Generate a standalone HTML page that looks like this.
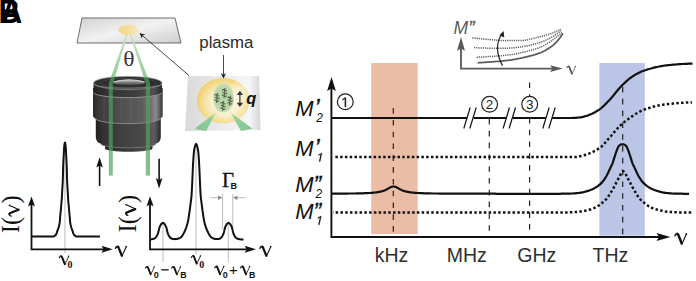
<!DOCTYPE html>
<html><head><meta charset="utf-8"><style>
html,body{margin:0;padding:0;background:#fff;}
body{width:696px;height:281px;overflow:hidden;}
svg{display:block;}
.sans{font-family:"Liberation Sans",sans-serif;}
.serif{font-family:"Liberation Serif",serif;}
</style></head><body>
<svg width="696" height="281" viewBox="0 0 696 281">
<defs>
<g id="nu" fill="none" stroke="currentColor" stroke-linecap="round">
<path d="M0.5,3.0 C0.8,1.7 1.8,1.0 2.8,1.3" stroke-width="1.4"/>
<path d="M2.7,1.3 C3.4,1.6 3.8,2.5 4.1,3.5 L6.8,10.4" stroke-width="2.3"/>
<path d="M6.9,10.8 C8.4,7.6 9.8,5.0 11.2,1.4" stroke-width="1.05"/>
<circle cx="11.2" cy="1.3" r="0.8" fill="currentColor" stroke="none"/>
</g>
<path id="one" d="M515,-1237 L197,-1010 L197,-1180 L530,-1409 L696,-1409 L696,0 L515,0 Z"/>
<linearGradient id="slide" x1="0" y1="0" x2="1" y2="1">
<stop offset="0" stop-color="#d2d2d2"/><stop offset="0.5" stop-color="#f2f2f2"/><stop offset="1" stop-color="#cdcdcd"/>
</linearGradient>
<linearGradient id="spot" x1="0" y1="0" x2="1" y2="0">
<stop offset="0" stop-color="#f1d67e"/><stop offset="0.5" stop-color="#f3dd95"/><stop offset="1" stop-color="#f5e8c0"/>
</linearGradient>
<linearGradient id="beamup" gradientUnits="userSpaceOnUse" x1="0" y1="33" x2="0" y2="83">
<stop offset="0" stop-color="#c4e3c4"/><stop offset="1" stop-color="#93cb98"/>
</linearGradient>
<linearGradient id="lensbody" x1="0" y1="0" x2="1" y2="0">
<stop offset="0" stop-color="#2a2a2a"/><stop offset="0.1" stop-color="#3c3c3c"/><stop offset="0.32" stop-color="#4a4a4a"/>
<stop offset="0.5" stop-color="#555"/><stop offset="0.68" stop-color="#5a5a5a"/>
<stop offset="0.82" stop-color="#6c6c6c"/><stop offset="0.9" stop-color="#8a8a8a"/><stop offset="0.96" stop-color="#5a5a5a"/><stop offset="1" stop-color="#333"/>
</linearGradient>
<linearGradient id="lenslow" x1="0" y1="0" x2="1" y2="0">
<stop offset="0" stop-color="#222"/><stop offset="0.12" stop-color="#333"/><stop offset="0.45" stop-color="#424242"/>
<stop offset="0.75" stop-color="#4a4a4a"/><stop offset="0.9" stop-color="#5c5c5c"/><stop offset="1" stop-color="#2a2a2a"/>
</linearGradient>
<linearGradient id="lensring" x1="0" y1="0" x2="1" y2="0">
<stop offset="0" stop-color="#232323"/><stop offset="0.2" stop-color="#333"/><stop offset="0.6" stop-color="#3e3e3e"/>
<stop offset="0.88" stop-color="#505050"/><stop offset="1" stop-color="#2a2a2a"/>
</linearGradient>
<linearGradient id="glass" x1="0" y1="0" x2="0" y2="1">
<stop offset="0" stop-color="#c4c4c4"/><stop offset="0.4" stop-color="#8a8a8a"/><stop offset="1" stop-color="#3a3a3a"/>
</linearGradient>
<linearGradient id="inset" x1="0" y1="0" x2="1" y2="0">
<stop offset="0" stop-color="#d9d9d9"/><stop offset="0.5" stop-color="#ebebeb"/><stop offset="0.85" stop-color="#f6f6f6"/><stop offset="1" stop-color="#d6d6d6"/>
</linearGradient>
<radialGradient id="ycirc" cx="0.54" cy="0.52" r="0.56" fx="0.56" fy="0.6">
<stop offset="0" stop-color="#fbf7e8"/><stop offset="0.45" stop-color="#f9f0cf"/><stop offset="0.7" stop-color="#f6e4a6"/><stop offset="0.88" stop-color="#f2d680"/><stop offset="1" stop-color="#eecb62"/>
</radialGradient>
<radialGradient id="yhl" cx="0.5" cy="0.5" r="0.5">
<stop offset="0" stop-color="#fffdf4" stop-opacity="0.75"/><stop offset="1" stop-color="#fffdf4" stop-opacity="0"/>
</radialGradient>
<radialGradient id="gell" cx="0.5" cy="0.5" r="0.5">
<stop offset="0" stop-color="#b4d3a2"/><stop offset="0.75" stop-color="#b9d6a7"/><stop offset="1" stop-color="#cbe1b8"/>
</radialGradient>
<linearGradient id="tri1" gradientUnits="userSpaceOnUse" x1="200" y1="130" x2="216" y2="112">
<stop offset="0" stop-color="#86c593"/><stop offset="0.7" stop-color="#97cf9f"/><stop offset="1" stop-color="#b3dab0" stop-opacity="0.5"/></linearGradient>
<linearGradient id="tri2" gradientUnits="userSpaceOnUse" x1="247" y1="130" x2="230" y2="112">
<stop offset="0" stop-color="#86c593"/><stop offset="0.7" stop-color="#97cf9f"/><stop offset="1" stop-color="#b3dab0" stop-opacity="0.5"/></linearGradient>
<marker id="ah" viewBox="0 0 10 10" refX="9" refY="5" markerWidth="6" markerHeight="6" orient="auto-start-reverse">
<path d="M0,0 L10,5 L0,10 L3,5 z" fill="#222"/></marker>
</defs>

<!-- panel labels -->
<g class="sans" font-weight="bold" font-size="33" fill="#000">
<text transform="translate(-1.6,22.8) scale(0.9,1)">B</text>
<text transform="translate(0.8,22.8) scale(0.9,1)">A</text>
</g>

<!-- slide -->
<polygon points="82,18 175,18 181,43 77,43" fill="url(#slide)" stroke="#4a4a4a" stroke-width="0.8"/>


<!-- upper beams -->
<polygon points="127.4,31 128.6,31 113.3,83 108.8,83" fill="url(#beamup)"/>
<polygon points="128.7,31 129.9,31 150,83 145.6,83" fill="url(#beamup)"/>
<ellipse cx="128.6" cy="30" rx="10.2" ry="5.4" fill="url(#spot)" opacity="0.92"/>
<text transform="translate(123.2,65.5) scale(1.18,1)" class="serif" font-size="20" fill="#3a3a3a">θ</text>

<!-- lens -->
<g>
<path d="M105,140 L152.5,140 L152.5,148.6 A23.75,3.2 0 0 1 105,148.6 Z" fill="url(#lensring)"/>
<path d="M95.8,118 L160.8,118 L160.8,137 Q160.7,142.4 156,143.6 A27.6,4.2 0 0 1 100.6,143.6 Q95.9,142.4 95.8,137 Z" fill="url(#lenslow)"/>
<path d="M100.6,143.6 A27.6,4.2 0 0 0 156,143.6" fill="none" stroke="#767676" stroke-width="0.9"/>
<path d="M93,88 L162.7,88 L162.7,116 Q162.6,117.6 161,118 A33.2,6 0 0 1 94.7,118 Q93.1,117.6 93,116 Z" fill="url(#lensbody)"/>
<g stroke="#7a7a7a" stroke-width="0.6" opacity="0.45">
<line x1="104" y1="97" x2="104" y2="121"/><line x1="112" y1="98" x2="112" y2="123"/><line x1="121" y1="98" x2="121" y2="124"/>
<line x1="131" y1="98" x2="131" y2="124"/><line x1="139" y1="98" x2="139" y2="123"/>
</g>
<path d="M94.7,118 A33.2,6 0 0 0 161,118" fill="none" stroke="#8e8e8e" stroke-width="0.9"/>
<path d="M93.5,84 Q93.6,83 95,82 L160.5,82 Q161.9,83 162,84 L162,92.4 A34.25,5.2 0 0 1 93.5,92.4 Z" fill="url(#lensring)"/>
<path d="M93.5,92.4 A34.25,5.2 0 0 0 162,92.4" fill="none" stroke="#9a9a9a" stroke-width="0.9"/>
<ellipse cx="127.8" cy="83" rx="34.2" ry="6.6" fill="#2d2d2d" stroke="#959595" stroke-width="0.7"/>
<ellipse cx="128.6" cy="83" rx="28" ry="4.6" fill="none" stroke="#444" stroke-width="0.8"/>
<ellipse cx="129" cy="82.6" rx="16" ry="2.8" fill="url(#glass)"/>
<path d="M113.5,82 Q129,77.6 144.5,82" fill="none" stroke="#cfcfcf" stroke-width="1"/>
<path d="M94,84 A33.8,4.2 0 0 0 161.6,84" fill="none" stroke="#8a8a8a" stroke-width="0.8"/>
</g>
<polygon points="110.95,77.2 115.07,77.2 113.3,83 112.8,83.5 112.8,89 108.8,89 108.8,83" fill="#4fa35f" opacity="0.7"/>
<polygon points="143.65,77.2 147.68,77.2 150,83 150,89 145.8,89 145.8,83.5 145.6,83" fill="#4fa35f" opacity="0.7"/>
<!-- lower beams -->
<rect x="108.8" y="89" width="4" height="86.6" fill="#4fa35f" opacity="0.7"/>
<rect x="145.8" y="89" width="4.2" height="86.6" fill="#4fa35f" opacity="0.7"/>

<!-- arrow spot -> inset -->
<line x1="189" y1="75.5" x2="140" y2="33.5" stroke="#333" stroke-width="0.9" marker-end="url(#ah)"/>

<!-- inset -->
<polygon points="188,76 259.2,76 260.5,130 185,131.2" fill="url(#inset)"/>
<ellipse cx="223.3" cy="100.6" rx="26.3" ry="22.6" fill="url(#ycirc)"/>
<ellipse cx="240" cy="93" rx="11" ry="13" fill="url(#yhl)"/>
<ellipse cx="223.5" cy="97.9" rx="10.5" ry="14.5" fill="url(#gell)"/>
<polygon points="194.5,128.8 206,131 216.5,112" fill="url(#tri1)"/>
<polygon points="241,131 252.5,128.8 230,112" fill="url(#tri2)"/>
<g stroke="#54614f" stroke-width="1.1" fill="none" stroke-linejoin="round">
<path d="M222.05,90.30 q1.15,-1.5 2.3,0 t2.3,0 M222.55,93.00 q1.15,-1.5 2.3,0 t2.3,0 M222.05,95.70 q1.15,-1.5 2.3,0 t2.3,0 M225.00,88.00 L224.00,98.00"/><path d="M214.55,95.30 q1.15,-1.5 2.3,0 t2.3,0 M215.05,98.00 q1.15,-1.5 2.3,0 t2.3,0 M214.55,100.70 q1.15,-1.5 2.3,0 t2.3,0 M217.50,93.00 L216.50,103.00"/><path d="M227.55,97.90 q1.15,-1.5 2.3,0 t2.3,0 M228.05,100.60 q1.15,-1.5 2.3,0 t2.3,0 M227.55,103.30 q1.15,-1.5 2.3,0 t2.3,0 M230.50,95.60 L229.50,105.60"/><path d="M220.55,103.30 q1.15,-1.5 2.3,0 t2.3,0 M221.05,106.00 q1.15,-1.5 2.3,0 t2.3,0 M220.55,108.70 q1.15,-1.5 2.3,0 t2.3,0 M223.50,101.00 L222.50,111.00"/>
</g>
<line x1="239.9" y1="93" x2="239.9" y2="105" stroke="#333" stroke-width="1.15"/>
<path d="M239.9,90.8 L243,95 L236.8,95 Z M239.9,107 L243,102.8 L236.8,102.8 Z" fill="#333"/>
<text x="246.3" y="104" class="sans" font-weight="bold" font-style="italic" font-size="16.5" fill="#111">q</text>
<text x="199.3" y="47.5" class="sans" font-size="16.8" fill="#2a2a2a">plasma</text>
<line x1="223.5" y1="55" x2="223.5" y2="78" stroke="#333" stroke-width="0.9" marker-end="url(#ah)"/>

<!-- up/down arrows -->
<line x1="99.6" y1="186" x2="99.6" y2="164" stroke="#111" stroke-width="1.6"/>
<path d="M99.6,157.2 L102.9,167.6 L99.6,165.6 L96.3,167.6 Z" fill="#111"/>
<line x1="159.1" y1="158.8" x2="159.1" y2="181" stroke="#111" stroke-width="1.6"/>
<path d="M159.1,188.4 L162.4,178 L159.1,180 L155.8,178 Z" fill="#111"/>

<!-- plot 1 -->
<line x1="64.95" y1="143" x2="64.95" y2="253" stroke="#aaa" stroke-width="0.8"/>
<path d="M32.0,236.6 L32.2,236.6 L32.5,236.6 L32.8,236.6 L33.0,236.6 L33.2,236.6 L33.5,236.6 L33.8,236.6 L34.0,236.6 L34.2,236.6 L34.5,236.6 L34.8,236.6 L35.0,236.6 L35.2,236.6 L35.5,236.6 L35.8,236.6 L36.0,236.6 L36.2,236.6 L36.5,236.6 L36.8,236.6 L37.0,236.6 L37.2,236.6 L37.5,236.6 L37.8,236.6 L38.0,236.6 L38.2,236.6 L38.5,236.6 L38.8,236.6 L39.0,236.6 L39.2,236.6 L39.5,236.6 L39.8,236.6 L40.0,236.6 L40.2,236.6 L40.5,236.6 L40.8,236.6 L41.0,236.6 L41.2,236.6 L41.5,236.6 L41.8,236.6 L42.0,236.6 L42.2,236.6 L42.5,236.6 L42.8,236.6 L43.0,236.6 L43.2,236.6 L43.5,236.6 L43.8,236.6 L44.0,236.6 L44.2,236.6 L44.5,236.6 L44.8,236.6 L45.0,236.6 L45.2,236.6 L45.5,236.6 L45.8,236.6 L46.0,236.6 L46.2,236.6 L46.5,236.6 L46.8,236.6 L47.0,236.6 L47.2,236.6 L47.5,236.6 L47.8,236.6 L48.0,236.6 L48.2,236.6 L48.5,236.6 L48.8,236.6 L49.0,236.6 L49.2,236.6 L49.5,236.6 L49.8,236.6 L50.0,236.6 L50.2,236.6 L50.5,236.6 L50.8,236.6 L51.0,236.6 L51.2,236.6 L51.5,236.6 L51.8,236.6 L52.0,236.6 L52.2,236.5 L52.5,236.5 L52.8,236.5 L53.0,236.5 L53.2,236.4 L53.5,236.4 L53.8,236.3 L54.0,236.2 L54.2,236.1 L54.5,236.0 L54.8,235.8 L55.0,235.6 L55.2,235.4 L55.5,235.2 L55.8,234.9 L56.0,234.6 L56.2,234.1 L56.5,233.5 L56.8,232.9 L57.0,232.1 L57.2,231.4 L57.5,230.6 L57.8,229.9 L58.0,229.2 L58.2,228.5 L58.5,227.8 L58.8,226.9 L59.0,226.0 L59.2,224.9 L59.5,223.7 L59.8,222.0 L60.0,219.2 L60.2,216.2 L60.5,213.3 L60.8,210.6 L61.0,207.9 L61.2,205.1 L61.5,202.1 L61.8,198.7 L62.0,195.0 L62.2,190.8 L62.5,186.1 L62.8,180.7 L63.0,173.9 L63.2,165.5 L63.5,158.9 L63.8,153.9 L64.0,149.7 L64.2,146.6 L64.5,144.4 L64.8,142.7 L65.0,142.0 L65.2,143.3 L65.5,145.2 L65.8,147.7 L66.0,151.2 L66.2,155.8 L66.5,161.2 L66.8,168.8 L67.0,177.0 L67.2,183.0 L67.5,188.0 L67.8,192.5 L68.0,196.5 L68.2,200.1 L68.5,203.3 L68.8,206.3 L69.0,209.0 L69.2,211.7 L69.5,214.4 L69.8,217.4 L70.0,220.4 L70.2,222.8 L70.5,224.2 L70.8,225.4 L71.0,226.4 L71.2,227.3 L71.5,228.1 L71.8,228.8 L72.0,229.5 L72.2,230.2 L72.5,230.9 L72.8,231.7 L73.0,232.4 L73.2,233.1 L73.5,233.8 L73.8,234.3 L74.0,234.7 L74.2,235.0 L74.5,235.3 L74.8,235.5 L75.0,235.7 L75.2,235.9 L75.5,236.0 L75.8,236.2 L76.0,236.3 L76.2,236.4 L76.5,236.4 L76.8,236.4 L77.0,236.5 L77.2,236.5 L77.5,236.5 L77.8,236.5 L78.0,236.6 L78.2,236.6 L78.5,236.6 L78.8,236.6 L79.0,236.6 L79.2,236.6 L79.5,236.6 L79.8,236.6 L80.0,236.6 L80.2,236.6 L80.5,236.6 L80.8,236.6 L81.0,236.6 L81.2,236.6 L81.5,236.6 L81.8,236.6 L82.0,236.6 L82.2,236.6 L82.5,236.6 L82.8,236.6 L83.0,236.6 L83.2,236.6 L83.5,236.6 L83.8,236.6 L84.0,236.6 L84.2,236.6 L84.5,236.6 L84.8,236.6 L85.0,236.6 L85.2,236.6 L85.5,236.6 L85.8,236.6 L86.0,236.6 L86.2,236.6 L86.5,236.6 L86.8,236.6 L87.0,236.6 L87.2,236.6 L87.5,236.6 L87.8,236.6 L88.0,236.6 L88.2,236.6 L88.5,236.6 L88.8,236.6 L89.0,236.6 L89.2,236.6 L89.5,236.6 L89.8,236.6 L90.0,236.6 L90.2,236.6 L90.5,236.6 L90.8,236.6 L91.0,236.6 L91.2,236.6 L91.5,236.6 L91.8,236.6 L92.0,236.6 L92.2,236.6 L92.5,236.6 L92.8,236.6 L93.0,236.6 L93.2,236.6 L93.5,236.6 L93.8,236.6 L94.0,236.6 L94.2,236.6 L94.5,236.6 L94.8,236.6 L95.0,236.6 L95.2,236.6 L95.5,236.6 L95.8,236.6 L96.0,236.6 L96.2,236.6 L96.5,236.6 L96.8,236.6 L97.0,236.6 L97.2,236.6 L97.5,236.6 L97.8,236.6 L98.0,236.6 L98.2,236.6 L98.5,236.6 L98.8,236.6 L99.0,236.6 L99.2,236.6 L99.5,236.6 L99.8,236.6 L100.0,236.6" fill="none" stroke="#111" stroke-width="2"/>
<polyline points="31.5,203 31.5,249.3 106,249.3" fill="none" stroke="#111" stroke-width="1.8"/>
<path d="M31.5,196.4 L35,206.4 L31.5,204.6 L28,206.4 Z" fill="#111"/>
<path d="M112.8,249.3 L101.5,245.8 L103.5,249.3 L101.5,252.8 Z" fill="#111"/>
<use href="#nu" transform="translate(115,245.3) scale(1.000)" style="color:#111"/>
<g transform="translate(19.3,233.2) rotate(-90)" fill="#111">
<text x="0" y="0" class="serif" font-size="24.5">I(</text>
<use href="#nu" transform="translate(16.6,-11.2) scale(1.0)" style="color:#111"/>
<text x="29.6" y="0" class="serif" font-size="24.5">)</text>
</g>
<use href="#nu" transform="translate(58.9,255.1) scale(0.867)" style="color:#111"/>
<text x="67.6" y="268" class="serif" font-weight="bold" font-size="10" fill="#111">0</text>

<!-- plot 2 -->
<g stroke="#aaa" stroke-width="0.8">
<line x1="163" y1="222" x2="163" y2="262"/>
<line x1="196" y1="145" x2="196" y2="254"/>
<line x1="228.3" y1="222" x2="228.3" y2="262"/>
<line x1="222.6" y1="194" x2="222.6" y2="229"/>
<line x1="232.8" y1="194" x2="232.8" y2="229"/>
<line x1="210.5" y1="197.7" x2="221" y2="197.7"/>
<line x1="245.5" y1="197.7" x2="234.5" y2="197.7"/>
</g>
<path d="M222.3,197.7 L218,195.5 L218,199.9 Z M233.1,197.7 L237.4,195.5 L237.4,199.9 Z" fill="#888"/>
<path d="M150.0,239.4 L150.5,239.4 L151.0,239.3 L151.5,239.3 L152.0,239.2 L152.5,239.1 L153.0,239.0 L153.5,238.8 L154.0,238.7 L154.5,238.4 L155.0,238.1 L155.5,237.7 L156.0,237.1 L156.5,236.5 L157.0,235.6 L157.5,234.6 L158.0,233.4 L158.5,231.6 L159.0,229.4 L159.5,227.5 L160.0,226.2 L160.5,225.2 L161.0,224.4 L161.5,223.8 L162.0,223.3 L162.5,223.0 L163.0,222.8 L163.5,223.1 L164.0,223.5 L164.5,224.0 L165.0,224.7 L165.5,225.6 L166.0,226.7 L166.5,228.1 L167.0,230.3 L167.5,232.4 L168.0,233.9 L168.5,235.0 L169.0,236.0 L169.5,236.7 L170.0,237.4 L170.5,237.9 L171.0,238.3 L171.5,238.5 L172.0,238.7 L172.5,238.9 L173.0,239.0 L173.5,239.0 L174.0,239.1 L174.5,239.1 L175.0,239.2 L175.5,239.1 L176.0,239.1 L176.5,239.1 L177.0,239.0 L177.5,238.9 L178.0,238.7 L178.5,238.5 L179.0,238.4 L179.5,238.1 L180.0,237.9 L180.5,237.6 L181.0,237.3 L181.5,236.8 L182.0,236.1 L182.5,235.4 L183.0,234.6 L183.5,233.6 L184.0,232.7 L184.5,231.7 L185.0,230.7 L185.5,229.5 L186.0,228.2 L186.5,226.8 L187.0,225.1 L187.5,223.3 L188.0,221.3 L188.5,218.5 L189.0,215.2 L189.5,211.7 L190.0,208.1 L190.5,204.2 L191.0,200.4 L191.5,196.1 L192.0,187.8 L192.5,176.2 L193.0,164.9 L193.5,156.7 L194.0,151.1 L194.5,148.3 L195.0,146.2 L195.5,144.7 L196.0,144.0 L196.5,144.3 L197.0,145.5 L197.5,147.4 L198.0,149.9 L198.5,154.1 L199.0,161.2 L199.5,171.6 L200.0,183.0 L200.5,193.7 L201.0,198.9 L201.5,202.6 L202.0,206.6 L202.5,210.3 L203.0,213.8 L203.5,217.3 L204.0,220.3 L204.5,222.5 L205.0,224.4 L205.5,226.1 L206.0,227.7 L206.5,229.0 L207.0,230.2 L207.5,231.3 L208.0,232.3 L208.5,233.3 L209.0,234.2 L209.5,235.1 L210.0,235.8 L210.5,236.5 L211.0,237.1 L211.5,237.5 L212.0,237.8 L212.5,238.1 L213.0,238.3 L213.5,238.5 L214.0,238.6 L214.5,238.8 L215.0,238.9 L215.5,239.0 L216.0,239.1 L216.5,239.1 L217.0,239.1 L217.5,239.0 L218.0,239.0 L218.5,238.9 L219.0,238.8 L219.5,238.7 L220.0,238.5 L220.5,238.2 L221.0,237.8 L221.5,237.3 L222.0,236.6 L222.5,235.8 L223.0,234.8 L223.5,233.7 L224.0,232.0 L224.5,229.8 L225.0,227.8 L225.5,226.5 L226.0,225.4 L226.5,224.5 L227.0,223.9 L227.5,223.4 L228.0,223.0 L228.5,222.8 L229.0,223.0 L229.5,223.4 L230.0,223.9 L230.5,224.5 L231.0,225.4 L231.5,226.5 L232.0,227.8 L232.5,229.8 L233.0,232.0 L233.5,233.7 L234.0,234.8 L234.5,235.8 L235.0,236.6 L235.5,237.3 L236.0,237.8 L236.5,238.2 L237.0,238.5 L237.5,238.7 L238.0,238.9 L238.5,239.0 L239.0,239.1 L239.5,239.2 L240.0,239.3 L240.5,239.3 L241.0,239.4 L241.5,239.4 L242.0,239.4 L242.5,239.4 L243.0,239.4 L243.5,239.4" fill="none" stroke="#111" stroke-width="2"/>
<polyline points="150,203 150,249.3 250,249.3" fill="none" stroke="#111" stroke-width="1.8"/>
<path d="M150,196.2 L153.5,206.2 L150,204.4 L146.5,206.2 Z" fill="#111"/>
<path d="M256,249.3 L244.7,245.8 L246.7,249.3 L244.7,252.8 Z" fill="#111"/>
<use href="#nu" transform="translate(259.5,245.3) scale(1.000)" style="color:#111"/>
<g transform="translate(136,232.5) rotate(-90)" fill="#111">
<text x="0" y="0" class="serif" font-size="24.5">I(</text>
<use href="#nu" transform="translate(16.6,-11.2) scale(1.0)" style="color:#111"/>
<text x="29.6" y="0" class="serif" font-size="24.5">)</text>
</g>
<text transform="translate(222,187.3) scale(1.05,1)" class="serif" font-size="20" fill="#111" stroke="#111" stroke-width="0.3">Γ</text><text x="230.6" y="189.2" class="sans" font-weight="bold" font-size="9" fill="#111">B</text>
<use href="#nu" transform="translate(191,254.8) scale(0.841)" style="color:#111"/>
<text x="199.2" y="267.6" class="serif" font-weight="bold" font-size="10" fill="#111">0</text>
<use href="#nu" transform="translate(145.1,265.8) scale(0.814)" style="color:#111"/>
<text x="153.7" y="278.1" class="sans" font-weight="bold" font-size="9" fill="#111">0</text>
<rect x="161.3" y="269.2" width="7.4" height="1.3" fill="#111"/>
<use href="#nu" transform="translate(171.3,265.8) scale(0.814)" style="color:#111"/>
<text x="180.3" y="278.1" class="sans" font-weight="bold" font-size="8.8" fill="#111">B</text>
<use href="#nu" transform="translate(214.3,265.4) scale(0.841)" style="color:#111"/>
<text x="222.8" y="277.7" class="sans" font-weight="bold" font-size="9" fill="#111">0</text>
<text x="229" y="274.5" class="sans" font-size="15" fill="#111">+</text>
<use href="#nu" transform="translate(240.2,265.4) scale(0.841)" style="color:#111"/>
<text x="248.9" y="278.1" class="sans" font-weight="bold" font-size="8.8" fill="#111">B</text>

<!-- main chart bands -->
<rect x="371.2" y="63" width="46.5" height="171" fill="#ebbca6"/>
<rect x="599.4" y="63" width="45.4" height="172.7" fill="#bbc5e6"/>

<!-- dashed verticals -->
<g stroke="#222" stroke-width="1.2" stroke-dasharray="5.6,6.2">
<line x1="393.3" y1="108.1" x2="393.3" y2="234"/>
<line x1="489.3" y1="119" x2="489.3" y2="234"/>
<line x1="529.6" y1="82.5" x2="529.6" y2="234"/>
<line x1="622.7" y1="87" x2="622.7" y2="235"/>
</g>

<!-- curves -->
<g fill="none" stroke="#111">
<path d="M332.0,118.0 L333.0,118.0 L334.0,118.0 L335.0,118.0 L336.0,118.0 L337.0,118.0 L338.0,118.0 L339.0,118.0 L340.0,118.0 L341.0,118.0 L342.0,118.0 L343.0,118.0 L344.0,118.0 L345.0,118.0 L346.0,118.0 L347.0,118.0 L348.0,118.0 L349.0,118.0 L350.0,118.0 L351.0,118.0 L352.0,118.0 L353.0,118.0 L354.0,118.0 L355.0,118.0 L356.0,118.0 L357.0,118.0 L358.0,118.0 L359.0,118.0 L360.0,118.0 L361.0,118.0 L362.0,118.0 L363.0,118.0 L364.0,118.0 L365.0,118.0 L366.0,118.0 L367.0,118.0 L368.0,118.0 L369.0,118.0 L370.0,118.0 L371.0,118.0 L372.0,118.0 L373.0,118.0 L374.0,118.0 L375.0,118.0 L376.0,118.0 L377.0,118.0 L378.0,118.0 L379.0,118.0 L380.0,118.0 L381.0,118.0 L382.0,118.0 L383.0,118.0 L384.0,118.0 L385.0,118.0 L386.0,118.0 L387.0,118.0 L388.0,118.0 L389.0,118.0 L390.0,118.0 L391.0,118.0 L392.0,118.0 L393.0,118.0 L394.0,118.0 L395.0,118.0 L396.0,118.0 L397.0,118.0 L398.0,118.0 L399.0,118.0 L400.0,118.0 L401.0,118.0 L402.0,118.0 L403.0,118.0 L404.0,118.0 L405.0,118.0 L406.0,118.0 L407.0,118.0 L408.0,118.0 L409.0,118.0 L410.0,118.0 L411.0,118.0 L412.0,118.0 L413.0,118.0 L414.0,118.0 L415.0,118.0 L416.0,118.0 L417.0,118.0 L418.0,118.0 L419.0,118.0 L420.0,118.0 L421.0,118.0 L422.0,118.0 L423.0,118.0 L424.0,118.0 L425.0,118.0 L426.0,118.0 L427.0,118.0 L428.0,118.0 L429.0,118.0 L430.0,118.0 L431.0,118.0 L432.0,118.0 L433.0,118.0 L434.0,118.0 L435.0,118.0 L436.0,118.0 L437.0,118.0 L438.0,118.0 L439.0,118.0 L440.0,118.0 L441.0,118.0 L442.0,118.0 L443.0,118.0 L444.0,118.0 L445.0,118.0 L446.0,118.0 L447.0,118.0 L448.0,118.0 L449.0,118.0 L450.0,118.0 L451.0,118.0 L452.0,118.0 L453.0,118.0 L454.0,118.0 L455.0,118.0 L456.0,118.0 L457.0,118.0 L458.0,118.0 L459.0,118.0 L460.0,118.0 L461.0,118.0 L462.0,118.0 L463.0,118.0 L464.0,118.0 L465.0,118.0 L466.0,118.0 L467.0,118.0 L467.3,118.0 M473.6,118.0 L474.6,118.0 L475.6,118.0 L476.6,118.0 L477.6,118.0 L478.6,118.0 L479.6,118.0 L480.6,118.0 L481.6,118.0 L482.6,118.0 L483.6,118.0 L484.6,118.0 L485.6,118.0 L486.6,118.0 L487.6,118.0 L488.6,118.0 L489.6,118.0 L490.6,118.0 L491.6,118.0 L492.6,118.0 L493.6,118.0 L494.6,118.0 L495.6,118.0 L496.6,118.0 L497.6,118.0 L498.6,118.0 L499.6,118.0 L500.6,118.0 L501.6,118.0 L502.6,118.0 L503.6,118.0 L504.6,118.0 L505.6,118.0 L506.5,118.0 M512.5,118.0 L513.5,118.0 L514.5,118.0 L515.5,118.0 L516.5,118.0 L517.5,118.0 L518.5,118.0 L519.5,118.0 L520.5,118.0 L521.5,118.0 L522.5,118.0 L523.5,118.0 L524.5,118.0 L525.5,118.0 L526.5,118.0 L527.5,118.0 L528.5,118.0 L529.5,118.0 L530.5,118.0 L531.5,118.0 L532.5,118.0 L533.5,118.0 L534.5,118.0 L535.5,118.0 L536.5,118.0 L537.5,118.0 L538.5,118.0 L539.5,118.0 L540.5,118.0 L541.5,118.0 L542.5,118.0 L543.5,118.0 L544.5,118.0 L545.5,118.0 L546.0,118.0 M552.0,118.0 L553.0,118.0 L554.0,118.0 L555.0,118.0 L556.0,118.0 L557.0,118.0 L558.0,118.0 L559.0,118.0 L560.0,118.0 L561.0,118.0 L562.0,118.0 L563.0,118.0 L564.0,118.0 L565.0,118.0 L566.0,118.0 L567.0,118.0 L568.0,118.0 L569.0,118.0 L570.0,118.0 L571.0,118.0 L572.0,118.0 L573.0,117.9 L574.0,117.9 L575.0,117.8 L576.0,117.8 L577.0,117.7 L578.0,117.6 L579.0,117.5 L580.0,117.4 L581.0,117.3 L582.0,117.1 L583.0,116.9 L584.0,116.6 L585.0,116.3 L586.0,116.0 L587.0,115.7 L588.0,115.4 L589.0,115.0 L590.0,114.6 L591.0,114.2 L592.0,113.8 L593.0,113.3 L594.0,112.8 L595.0,112.2 L596.0,111.6 L597.0,111.0 L598.0,110.4 L599.0,109.8 L600.0,109.1 L601.0,108.3 L602.0,107.4 L603.0,106.5 L604.0,105.6 L605.0,104.6 L606.0,103.6 L607.0,102.6 L608.0,101.5 L609.0,100.5 L610.0,99.4 L611.0,98.3 L612.0,97.2 L613.0,96.0 L614.0,94.7 L615.0,93.5 L616.0,92.2 L617.0,91.0 L618.0,89.8 L619.0,88.6 L620.0,87.5 L621.0,86.5 L622.0,85.5 L623.0,84.5 L624.0,83.5 L625.0,82.6 L626.0,81.6 L627.0,80.7 L628.0,79.9 L629.0,79.0 L630.0,78.2 L631.0,77.5 L632.0,76.8 L633.0,76.1 L634.0,75.5 L635.0,74.9 L636.0,74.3 L637.0,73.8 L638.0,73.2 L639.0,72.7 L640.0,72.2 L641.0,71.8 L642.0,71.3 L643.0,71.0 L644.0,70.6 L645.0,70.3 L646.0,70.0 L647.0,69.6 L648.0,69.3 L649.0,69.0 L650.0,68.8 L651.0,68.5 L652.0,68.2 L653.0,67.9 L654.0,67.7 L655.0,67.4 L656.0,67.2 L657.0,67.0 L658.0,66.8 L659.0,66.5 L660.0,66.4 L661.0,66.2 L662.0,66.0 L663.0,65.8 L664.0,65.7 L665.0,65.5 L666.0,65.4 L667.0,65.3 L668.0,65.2 L669.0,65.1 L670.0,65.0 L671.0,64.9 L672.0,64.8 L673.0,64.7 L674.0,64.6 L675.0,64.6 L676.0,64.5 L677.0,64.4 L678.0,64.3 L679.0,64.2 L680.0,64.2 L681.0,64.1 L682.0,64.0 L683.0,64.0 L684.0,63.9 L685.0,63.9 L686.0,63.8 L687.0,63.8 L688.0,63.7 L689.0,63.7 L690.0,63.7 L691.0,63.6 L692.0,63.6 L692.5,63.6" stroke-width="2.2"/>
<path d="M332.0,193.7 L332.5,193.7 L333.0,193.7 L333.5,193.7 L334.0,193.7 L334.5,193.7 L335.0,193.6 L335.5,193.6 L336.0,193.6 L336.5,193.6 L337.0,193.6 L337.5,193.6 L338.0,193.6 L338.5,193.6 L339.0,193.6 L339.5,193.6 L340.0,193.6 L340.5,193.6 L341.0,193.6 L341.5,193.6 L342.0,193.6 L342.5,193.6 L343.0,193.6 L343.5,193.6 L344.0,193.6 L344.5,193.6 L345.0,193.6 L345.5,193.6 L346.0,193.6 L346.5,193.6 L347.0,193.6 L347.5,193.6 L348.0,193.6 L348.5,193.5 L349.0,193.5 L349.5,193.5 L350.0,193.5 L350.5,193.5 L351.0,193.5 L351.5,193.5 L352.0,193.5 L352.5,193.5 L353.0,193.5 L353.5,193.5 L354.0,193.5 L354.5,193.5 L355.0,193.5 L355.5,193.5 L356.0,193.4 L356.5,193.4 L357.0,193.4 L357.5,193.4 L358.0,193.4 L358.5,193.4 L359.0,193.4 L359.5,193.4 L360.0,193.4 L360.5,193.3 L361.0,193.3 L361.5,193.3 L362.0,193.3 L362.5,193.3 L363.0,193.3 L363.5,193.3 L364.0,193.2 L364.5,193.2 L365.0,193.2 L365.5,193.2 L366.0,193.2 L366.5,193.1 L367.0,193.1 L367.5,193.1 L368.0,193.1 L368.5,193.0 L369.0,193.0 L369.5,193.0 L370.0,193.0 L370.5,192.9 L371.0,192.9 L371.5,192.9 L372.0,192.8 L372.5,192.8 L373.0,192.7 L373.5,192.7 L374.0,192.6 L374.5,192.6 L375.0,192.5 L375.5,192.5 L376.0,192.4 L376.5,192.3 L377.0,192.3 L377.5,192.2 L378.0,192.1 L378.5,192.0 L379.0,191.9 L379.5,191.8 L380.0,191.7 L380.5,191.6 L381.0,191.5 L381.5,191.4 L382.0,191.2 L382.5,191.1 L383.0,190.9 L383.5,190.7 L384.0,190.6 L384.5,190.4 L385.0,190.2 L385.5,189.9 L386.0,189.7 L386.5,189.5 L387.0,189.2 L387.5,188.9 L388.0,188.7 L388.5,188.4 L389.0,188.1 L389.5,187.8 L390.0,187.6 L390.5,187.3 L391.0,187.1 L391.5,186.9 L392.0,186.7 L392.5,186.6 L393.0,186.5 L393.5,186.5 L394.0,186.5 L394.5,186.6 L395.0,186.7 L395.5,186.9 L396.0,187.1 L396.5,187.3 L397.0,187.6 L397.5,187.8 L398.0,188.1 L398.5,188.4 L399.0,188.7 L399.5,188.9 L400.0,189.2 L400.5,189.5 L401.0,189.7 L401.5,189.9 L402.0,190.2 L402.5,190.4 L403.0,190.6 L403.5,190.7 L404.0,190.9 L404.5,191.1 L405.0,191.2 L405.5,191.4 L406.0,191.5 L406.5,191.6 L407.0,191.7 L407.5,191.8 L408.0,191.9 L408.5,192.0 L409.0,192.1 L409.5,192.2 L410.0,192.3 L410.5,192.3 L411.0,192.4 L411.5,192.5 L412.0,192.5 L412.5,192.6 L413.0,192.6 L413.5,192.7 L414.0,192.7 L414.5,192.8 L415.0,192.8 L415.5,192.9 L416.0,192.9 L416.5,192.9 L417.0,193.0 L417.5,193.0 L418.0,193.0 L418.5,193.0 L419.0,193.1 L419.5,193.1 L420.0,193.1 L420.5,193.1 L421.0,193.2 L421.5,193.2 L422.0,193.2 L422.5,193.2 L423.0,193.2 L423.5,193.3 L424.0,193.3 L424.5,193.3 L425.0,193.3 L425.5,193.3 L426.0,193.3 L426.5,193.3 L427.0,193.4 L427.5,193.4 L428.0,193.4 L428.5,193.4 L429.0,193.4 L429.5,193.4 L430.0,193.4 L430.5,193.4 L431.0,193.4 L431.5,193.5 L432.0,193.5 L432.5,193.5 L433.0,193.5 L433.5,193.5 L434.0,193.5 L434.5,193.5 L435.0,193.5 L435.5,193.5 L436.0,193.5 L436.5,193.5 L437.0,193.5 L437.5,193.5 L438.0,193.5 L438.5,193.5 L439.0,193.6 L439.5,193.6 L440.0,193.6 L440.5,193.6 L441.0,193.6 L441.5,193.6 L442.0,193.6 L442.5,193.6 L443.0,193.6 L443.5,193.6 L444.0,193.6 L444.5,193.6 L445.0,193.6 L445.5,193.6 L446.0,193.6 L446.5,193.6 L447.0,193.6 L447.5,193.6 L448.0,193.6 L448.5,193.6 L449.0,193.6 L449.5,193.6 L450.0,193.6 L450.5,193.6 L451.0,193.6 L451.5,193.6 L452.0,193.6 L452.5,193.7 L453.0,193.7 L453.5,193.7 L454.0,193.7 L454.5,193.7 L455.0,193.7 L455.5,193.7 L456.0,193.7 L456.5,193.7 L457.0,193.7 L457.5,193.7 L458.0,193.7 L458.5,193.7 L459.0,193.7 L459.5,193.7 L460.0,193.7 L460.5,193.7 L461.0,193.7 L461.5,193.7 L462.0,193.7 L462.5,193.7 L463.0,193.7 L463.5,193.7 L464.0,193.7 L464.5,193.7 L465.0,193.7 L465.5,193.7 L466.0,193.7 L466.5,193.7 L467.0,193.7 L467.5,193.7 L468.0,193.7 L468.5,193.7 L469.0,193.7 L469.5,193.7 L470.0,193.7 L470.5,193.7 L471.0,193.7 L471.5,193.7 L472.0,193.7 L472.5,193.7 L473.0,193.7 L473.5,193.7 L474.0,193.7 L474.5,193.7 L475.0,193.7 L475.5,193.7 L476.0,193.7 L476.5,193.7 L477.0,193.7 L477.5,193.7 L478.0,193.7 L478.5,193.7 L479.0,193.7 L479.5,193.7 L480.0,193.7 L480.5,193.7 L481.0,193.7 L481.5,193.7 L482.0,193.7 L482.5,193.7 L483.0,193.7 L483.5,193.7 L484.0,193.7 L484.5,193.7 L485.0,193.7 L485.5,193.7 L486.0,193.7 L486.5,193.7 L487.0,193.7 L487.5,193.7 L488.0,193.7 L488.5,193.7 L489.0,193.7 L489.5,193.7 L490.0,193.7 L490.5,193.7 L491.0,193.7 L491.5,193.7 L492.0,193.7 L492.5,193.7 L493.0,193.7 L493.5,193.7 L494.0,193.7 L494.5,193.7 L495.0,193.7 L495.5,193.7 L496.0,193.8 L496.5,193.8 L497.0,193.8 L497.5,193.8 L498.0,193.8 L498.5,193.8 L499.0,193.8 L499.5,193.8 L500.0,193.8 L500.5,193.8 L501.0,193.8 L501.5,193.8 L502.0,193.8 L502.5,193.8 L503.0,193.8 L503.5,193.8 L504.0,193.8 L504.5,193.8 L505.0,193.8 L505.5,193.8 L506.0,193.8 L506.5,193.8 L507.0,193.8 L507.5,193.8 L508.0,193.8 L508.5,193.8 L509.0,193.8 L509.5,193.8 L510.0,193.8 L510.5,193.8 L511.0,193.8 L511.5,193.8 L512.0,193.8 L512.5,193.8 L513.0,193.8 L513.5,193.8 L514.0,193.8 L514.5,193.8 L515.0,193.8 L515.5,193.8 L516.0,193.8 L516.5,193.8 L517.0,193.8 L517.5,193.8 L518.0,193.8 L518.5,193.8 L519.0,193.8 L519.5,193.8 L520.0,193.8 L520.5,193.8 L521.0,193.8 L521.5,193.8 L522.0,193.8 L522.5,193.8 L523.0,193.8 L523.5,193.8 L524.0,193.8 L524.5,193.8 L525.0,193.8 L525.5,193.8 L526.0,193.8 L526.5,193.8 L527.0,193.8 L527.5,193.8 L528.0,193.8 L528.5,193.8 L529.0,193.8 L529.5,193.8 L530.0,193.8 L530.5,193.8 L531.0,193.8 L531.5,193.8 L532.0,193.8 L532.5,193.8 L533.0,193.8 L533.5,193.8 L534.0,193.8 L534.5,193.8 L535.0,193.8 L535.5,193.8 L536.0,193.8 L536.5,193.8 L537.0,193.8 L537.5,193.8 L538.0,193.8 L538.5,193.8 L539.0,193.8 L539.5,193.8 L540.0,193.8 L540.5,193.8 L541.0,193.8 L541.5,193.8 L542.0,193.8 L542.5,193.8 L543.0,193.8 L543.5,193.8 L544.0,193.8 L544.5,193.8 L545.0,193.8 L545.5,193.8 L546.0,193.8 L546.5,193.8 L547.0,193.8 L547.5,193.8 L548.0,193.8 L548.5,193.8 L549.0,193.8 L549.5,193.8 L550.0,193.8 L550.5,193.8 L551.0,193.8 L551.5,193.8 L552.0,193.8 L552.5,193.8 L553.0,193.8 L553.5,193.8 L554.0,193.8 L554.5,193.8 L555.0,193.8 L555.5,193.8 L556.0,193.8 L556.5,193.8 L557.0,193.8 L557.5,193.8 L558.0,193.8 L558.5,193.8 L559.0,193.8 L559.5,193.8 L560.0,193.8 L560.5,193.8 L561.0,193.7 L561.5,193.7 L562.0,193.7 L562.5,193.7 L563.0,193.7 L563.5,193.7 L564.0,193.7 L564.5,193.7 L565.0,193.7 L565.5,193.7 L566.0,193.7 L566.5,193.7 L567.0,193.7 L567.5,193.7 L568.0,193.7 L568.5,193.7 L569.0,193.7 L569.5,193.6 L570.0,193.6 L570.5,193.6 L571.0,193.6 L571.5,193.5 L572.0,193.5 L572.5,193.5 L573.0,193.5 L573.5,193.4 L574.0,193.4 L574.5,193.3 L575.0,193.3 L575.5,193.3 L576.0,193.2 L576.5,193.2 L577.0,193.1 L577.5,193.1 L578.0,193.0 L578.5,193.0 L579.0,192.9 L579.5,192.9 L580.0,192.8 L580.5,192.7 L581.0,192.7 L581.5,192.6 L582.0,192.5 L582.5,192.4 L583.0,192.3 L583.5,192.2 L584.0,192.0 L584.5,191.9 L585.0,191.8 L585.5,191.6 L586.0,191.5 L586.5,191.3 L587.0,191.2 L587.5,191.0 L588.0,190.9 L588.5,190.7 L589.0,190.5 L589.5,190.4 L590.0,190.2 L590.5,190.0 L591.0,189.8 L591.5,189.6 L592.0,189.4 L592.5,189.2 L593.0,188.9 L593.5,188.7 L594.0,188.4 L594.5,188.2 L595.0,187.9 L595.5,187.6 L596.0,187.4 L596.5,187.0 L597.0,186.7 L597.5,186.4 L598.0,186.0 L598.5,185.6 L599.0,185.2 L599.5,184.8 L600.0,184.4 L600.5,183.9 L601.0,183.4 L601.5,182.9 L602.0,182.4 L602.5,181.8 L603.0,181.3 L603.5,180.6 L604.0,179.9 L604.5,179.2 L605.0,178.5 L605.5,177.7 L606.0,176.8 L606.5,176.0 L607.0,175.1 L607.5,174.1 L608.0,173.1 L608.5,172.0 L609.0,170.8 L609.5,169.7 L610.0,168.7 L610.5,167.6 L611.0,166.6 L611.5,165.6 L612.0,164.5 L612.5,163.3 L613.0,161.9 L613.5,160.3 L614.0,158.7 L614.5,157.1 L615.0,155.6 L615.5,154.0 L616.0,152.5 L616.5,151.1 L617.0,149.8 L617.5,148.6 L618.0,147.4 L618.5,146.4 L619.0,145.8 L619.5,145.4 L620.0,145.1 L620.5,144.8 L621.0,144.6 L621.5,144.4 L622.0,144.3 L622.5,144.3 L623.0,144.3 L623.5,144.4 L624.0,144.6 L624.5,144.8 L625.0,145.1 L625.5,145.4 L626.0,145.8 L626.5,146.4 L627.0,147.4 L627.5,148.6 L628.0,149.8 L628.5,151.1 L629.0,152.5 L629.5,154.0 L630.0,155.6 L630.5,157.1 L631.0,158.7 L631.5,160.3 L632.0,161.9 L632.5,163.3 L633.0,164.5 L633.5,165.6 L634.0,166.6 L634.5,167.6 L635.0,168.7 L635.5,169.7 L636.0,170.8 L636.5,172.0 L637.0,173.1 L637.5,174.1 L638.0,175.1 L638.5,176.0 L639.0,176.8 L639.5,177.7 L640.0,178.5 L640.5,179.2 L641.0,179.9 L641.5,180.6 L642.0,181.3 L642.5,181.9 L643.0,182.4 L643.5,182.9 L644.0,183.4 L644.5,183.9 L645.0,184.4 L645.5,184.8 L646.0,185.2 L646.5,185.6 L647.0,186.0 L647.5,186.4 L648.0,186.7 L648.5,187.1 L649.0,187.4 L649.5,187.6 L650.0,187.9 L650.5,188.2 L651.0,188.4 L651.5,188.7 L652.0,188.9 L652.5,189.2 L653.0,189.4 L653.5,189.6 L654.0,189.8 L654.5,190.0 L655.0,190.2 L655.5,190.4 L656.0,190.5 L656.5,190.7 L657.0,190.9 L657.5,191.0 L658.0,191.2 L658.5,191.3 L659.0,191.5 L659.5,191.6 L660.0,191.8 L660.5,191.9 L661.0,192.0 L661.5,192.2 L662.0,192.3 L662.5,192.4 L663.0,192.5 L663.5,192.6 L664.0,192.7 L664.5,192.7 L665.0,192.8 L665.5,192.9 L666.0,192.9 L666.5,193.0 L667.0,193.0 L667.5,193.1 L668.0,193.1 L668.5,193.2 L669.0,193.2 L669.5,193.3 L670.0,193.3 L670.5,193.4 L671.0,193.4 L671.5,193.4 L672.0,193.5 L672.5,193.5 L673.0,193.5 L673.5,193.6 L674.0,193.6 L674.5,193.6 L675.0,193.6 L675.5,193.6 L676.0,193.7 L676.5,193.7 L677.0,193.7 L677.5,193.7 L678.0,193.7 L678.5,193.7 L679.0,193.7 L679.5,193.7 L680.0,193.7 L680.5,193.7 L681.0,193.7 L681.5,193.7 L682.0,193.7 L682.5,193.7 L683.0,193.8 L683.5,193.8 L684.0,193.8 L684.5,193.8 L685.0,193.8 L685.5,193.8 L686.0,193.8 L686.5,193.8 L687.0,193.8 L687.5,193.8 L688.0,193.8 L688.5,193.8 L689.0,193.8" stroke-width="2.2"/>
<path d="M333.0,157.0 L334.0,157.0 L335.0,157.0 L336.0,157.0 L337.0,157.0 L338.0,157.0 L339.0,157.0 L340.0,157.0 L341.0,157.0 L342.0,157.0 L343.0,157.0 L344.0,157.0 L345.0,157.0 L346.0,157.0 L347.0,157.0 L348.0,157.0 L349.0,157.0 L350.0,157.0 L351.0,157.0 L352.0,157.0 L353.0,157.0 L354.0,157.0 L355.0,157.0 L356.0,157.0 L357.0,157.0 L358.0,157.0 L359.0,157.0 L360.0,157.0 L361.0,157.0 L362.0,157.0 L363.0,157.0 L364.0,157.0 L365.0,157.0 L366.0,157.0 L367.0,157.0 L368.0,157.0 L369.0,157.0 L370.0,157.0 L371.0,157.0 L372.0,157.0 L373.0,157.0 L374.0,157.0 L375.0,157.0 L376.0,157.0 L377.0,157.0 L378.0,157.0 L379.0,157.0 L380.0,157.0 L381.0,157.0 L382.0,157.0 L383.0,157.0 L384.0,157.0 L385.0,157.0 L386.0,157.0 L387.0,157.0 L388.0,157.0 L389.0,157.0 L390.0,157.0 L391.0,157.0 L392.0,157.0 L393.0,157.0 L394.0,157.0 L395.0,157.0 L396.0,157.0 L397.0,157.0 L398.0,157.0 L399.0,157.0 L400.0,157.0 L401.0,157.0 L402.0,157.0 L403.0,157.0 L404.0,157.0 L405.0,157.0 L406.0,157.0 L407.0,157.0 L408.0,157.0 L409.0,157.0 L410.0,157.0 L411.0,157.0 L412.0,157.0 L413.0,157.0 L414.0,157.0 L415.0,157.0 L416.0,157.0 L417.0,157.0 L418.0,157.0 L419.0,157.0 L420.0,157.0 L421.0,157.0 L422.0,157.0 L423.0,157.0 L424.0,157.0 L425.0,157.0 L426.0,157.0 L427.0,157.0 L428.0,157.0 L429.0,157.0 L430.0,157.0 L431.0,157.0 L432.0,157.0 L433.0,157.0 L434.0,157.0 L435.0,157.0 L436.0,157.0 L437.0,157.0 L438.0,157.0 L439.0,157.0 L440.0,157.0 L441.0,157.0 L442.0,157.0 L443.0,157.0 L444.0,157.0 L445.0,157.0 L446.0,157.0 L447.0,157.0 L448.0,157.0 L449.0,157.0 L450.0,157.0 L451.0,157.0 L452.0,157.0 L453.0,157.0 L454.0,157.0 L455.0,157.0 L456.0,157.0 L457.0,157.0 L458.0,157.0 L459.0,157.0 L460.0,157.0 L461.0,157.0 L462.0,157.0 L463.0,157.0 L464.0,157.0 L465.0,157.0 L466.0,157.0 L467.0,157.0 L468.0,157.0 L469.0,157.0 L470.0,157.0 L471.0,157.0 L472.0,157.0 L473.0,157.0 L474.0,157.0 L475.0,157.0 L476.0,157.0 L477.0,157.0 L478.0,157.0 L479.0,157.0 L480.0,157.0 L481.0,157.0 L482.0,157.0 L483.0,157.0 L484.0,157.0 L485.0,157.0 L486.0,157.0 L487.0,157.0 L488.0,157.0 L489.0,157.0 L490.0,157.0 L491.0,157.0 L492.0,157.0 L493.0,157.0 L494.0,157.0 L495.0,157.0 L496.0,157.0 L497.0,157.0 L498.0,157.0 L499.0,157.0 L500.0,157.0 L501.0,157.0 L502.0,157.0 L503.0,157.0 L504.0,157.0 L505.0,157.0 L506.0,157.0 L507.0,157.0 L508.0,157.0 L509.0,157.0 L510.0,157.0 L511.0,157.0 L512.0,157.0 L513.0,157.0 L514.0,157.0 L515.0,157.0 L516.0,157.0 L517.0,157.0 L518.0,157.0 L519.0,157.0 L520.0,157.0 L521.0,157.0 L522.0,157.0 L523.0,157.0 L524.0,157.0 L525.0,157.0 L526.0,157.0 L527.0,157.0 L528.0,157.0 L529.0,157.0 L530.0,157.0 L531.0,157.0 L532.0,157.0 L533.0,157.0 L534.0,157.0 L535.0,157.0 L536.0,157.0 L537.0,157.0 L538.0,157.0 L539.0,157.0 L540.0,157.0 L541.0,157.0 L542.0,157.0 L543.0,157.0 L544.0,157.0 L545.0,157.0 L546.0,157.0 L547.0,157.0 L548.0,157.0 L549.0,157.0 L550.0,157.0 L551.0,157.0 L552.0,157.0 L553.0,157.0 L554.0,157.0 L555.0,157.0 L556.0,157.0 L557.0,157.0 L558.0,157.0 L559.0,157.0 L560.0,157.0 L561.0,157.0 L562.0,157.0 L563.0,157.0 L564.0,157.0 L565.0,157.0 L566.0,157.0 L567.0,157.0 L568.0,157.0 L569.0,157.0 L570.0,157.0 L571.0,157.0 L572.0,157.0 L573.0,157.0 L574.0,157.0 L575.0,157.0 L576.0,157.0 L577.0,156.9 L578.0,156.7 L579.0,156.6 L580.0,156.3 L581.0,156.1 L582.0,155.8 L583.0,155.5 L584.0,155.3 L585.0,155.0 L586.0,154.7 L587.0,154.4 L588.0,154.0 L589.0,153.6 L590.0,153.2 L591.0,152.8 L592.0,152.3 L593.0,151.9 L594.0,151.3 L595.0,150.8 L596.0,150.2 L597.0,149.7 L598.0,149.0 L599.0,148.4 L600.0,147.7 L601.0,147.0 L602.0,146.1 L603.0,145.1 L604.0,144.0 L605.0,142.9 L606.0,141.7 L607.0,140.5 L608.0,139.3 L609.0,138.2 L610.0,137.1 L611.0,136.0 L612.0,134.8 L613.0,133.7 L614.0,132.5 L615.0,131.3 L616.0,130.2 L617.0,129.0 L618.0,127.9 L619.0,126.9 L620.0,125.8 L621.0,124.9 L622.0,124.0 L623.0,123.1 L624.0,122.3 L625.0,121.5 L626.0,120.7 L627.0,119.9 L628.0,119.2 L629.0,118.4 L630.0,117.7 L631.0,117.1 L632.0,116.4 L633.0,115.8 L634.0,115.1 L635.0,114.5 L636.0,113.8 L637.0,113.2 L638.0,112.6 L639.0,112.1 L640.0,111.5 L641.0,111.0 L642.0,110.5 L643.0,110.1 L644.0,109.7 L645.0,109.3 L646.0,109.0 L647.0,108.6 L648.0,108.3 L649.0,108.0 L650.0,107.7 L651.0,107.4 L652.0,107.1 L653.0,106.8 L654.0,106.5 L655.0,106.3 L656.0,106.0 L657.0,105.8 L658.0,105.6 L659.0,105.4 L660.0,105.2 L661.0,105.0 L662.0,104.9 L663.0,104.7 L664.0,104.6 L665.0,104.5 L666.0,104.3 L667.0,104.2 L668.0,104.1 L669.0,104.0 L670.0,103.9 L671.0,103.8 L672.0,103.7 L673.0,103.6 L674.0,103.5 L675.0,103.4 L676.0,103.3 L677.0,103.2 L678.0,103.1 L679.0,103.0 L680.0,103.0 L681.0,102.9 L682.0,102.8 L683.0,102.8 L684.0,102.7 L685.0,102.7 L686.0,102.6 L687.0,102.6 L688.0,102.5 L689.0,102.5 L690.0,102.4 L691.0,102.4 L692.0,102.4" stroke-width="2.5" stroke-dasharray="2.5,2.28" stroke-dashoffset="2.43"/>
<path d="M333.0,212.4 L334.0,212.4 L335.0,212.4 L336.0,212.4 L337.0,212.4 L338.0,212.4 L339.0,212.4 L340.0,212.4 L341.0,212.4 L342.0,212.4 L343.0,212.4 L344.0,212.4 L345.0,212.4 L346.0,212.4 L347.0,212.4 L348.0,212.4 L349.0,212.4 L350.0,212.4 L351.0,212.4 L352.0,212.4 L353.0,212.4 L354.0,212.4 L355.0,212.4 L356.0,212.4 L357.0,212.4 L358.0,212.4 L359.0,212.4 L360.0,212.4 L361.0,212.4 L362.0,212.4 L363.0,212.4 L364.0,212.4 L365.0,212.4 L366.0,212.4 L367.0,212.4 L368.0,212.4 L369.0,212.4 L370.0,212.4 L371.0,212.4 L372.0,212.4 L373.0,212.4 L374.0,212.4 L375.0,212.4 L376.0,212.4 L377.0,212.4 L378.0,212.4 L379.0,212.4 L380.0,212.4 L381.0,212.4 L382.0,212.4 L383.0,212.4 L384.0,212.4 L385.0,212.4 L386.0,212.4 L387.0,212.4 L388.0,212.4 L389.0,212.4 L390.0,212.4 L391.0,212.4 L392.0,212.4 L393.0,212.4 L394.0,212.4 L395.0,212.4 L396.0,212.4 L397.0,212.4 L398.0,212.4 L399.0,212.4 L400.0,212.4 L401.0,212.4 L402.0,212.4 L403.0,212.4 L404.0,212.4 L405.0,212.4 L406.0,212.4 L407.0,212.4 L408.0,212.4 L409.0,212.4 L410.0,212.4 L411.0,212.4 L412.0,212.4 L413.0,212.4 L414.0,212.4 L415.0,212.4 L416.0,212.4 L417.0,212.4 L418.0,212.4 L419.0,212.4 L420.0,212.4 L421.0,212.4 L422.0,212.4 L423.0,212.4 L424.0,212.4 L425.0,212.4 L426.0,212.4 L427.0,212.4 L428.0,212.4 L429.0,212.4 L430.0,212.4 L431.0,212.4 L432.0,212.4 L433.0,212.4 L434.0,212.4 L435.0,212.4 L436.0,212.4 L437.0,212.4 L438.0,212.4 L439.0,212.4 L440.0,212.4 L441.0,212.4 L442.0,212.4 L443.0,212.4 L444.0,212.4 L445.0,212.4 L446.0,212.4 L447.0,212.4 L448.0,212.4 L449.0,212.4 L450.0,212.4 L451.0,212.4 L452.0,212.4 L453.0,212.4 L454.0,212.4 L455.0,212.4 L456.0,212.4 L457.0,212.4 L458.0,212.4 L459.0,212.4 L460.0,212.4 L461.0,212.4 L462.0,212.4 L463.0,212.4 L464.0,212.4 L465.0,212.4 L466.0,212.4 L467.0,212.4 L468.0,212.4 L469.0,212.4 L470.0,212.4 L471.0,212.4 L472.0,212.4 L473.0,212.4 L474.0,212.4 L475.0,212.4 L476.0,212.4 L477.0,212.4 L478.0,212.4 L479.0,212.4 L480.0,212.4 L481.0,212.4 L482.0,212.4 L483.0,212.4 L484.0,212.4 L485.0,212.4 L486.0,212.4 L487.0,212.4 L488.0,212.4 L489.0,212.4 L490.0,212.4 L491.0,212.4 L492.0,212.4 L493.0,212.4 L494.0,212.4 L495.0,212.4 L496.0,212.4 L497.0,212.4 L498.0,212.4 L499.0,212.4 L500.0,212.4 L501.0,212.4 L502.0,212.4 L503.0,212.4 L504.0,212.4 L505.0,212.4 L506.0,212.4 L507.0,212.4 L508.0,212.4 L509.0,212.4 L510.0,212.4 L511.0,212.4 L512.0,212.4 L513.0,212.4 L514.0,212.4 L515.0,212.4 L516.0,212.4 L517.0,212.4 L518.0,212.4 L519.0,212.4 L520.0,212.4 L521.0,212.4 L522.0,212.4 L523.0,212.4 L524.0,212.4 L525.0,212.4 L526.0,212.4 L527.0,212.4 L528.0,212.4 L529.0,212.4 L530.0,212.4 L531.0,212.4 L532.0,212.4 L533.0,212.4 L534.0,212.4 L535.0,212.4 L536.0,212.4 L537.0,212.4 L538.0,212.4 L539.0,212.4 L540.0,212.4 L541.0,212.4 L542.0,212.4 L543.0,212.4 L544.0,212.4 L545.0,212.4 L546.0,212.4 L547.0,212.4 L548.0,212.4 L549.0,212.4 L550.0,212.4 L551.0,212.4 L552.0,212.4 L553.0,212.4 L554.0,212.4 L555.0,212.4 L556.0,212.4 L557.0,212.4 L558.0,212.4 L559.0,212.4 L560.0,212.4 L561.0,212.4 L562.0,212.4 L563.0,212.4 L564.0,212.4 L565.0,212.4 L566.0,212.4 L567.0,212.4 L568.0,212.3 L569.0,212.3 L570.0,212.3 L571.0,212.2 L572.0,212.2 L573.0,212.1 L574.0,212.1 L575.0,212.0 L576.0,211.9 L577.0,211.9 L578.0,211.8 L579.0,211.7 L580.0,211.6 L581.0,211.5 L582.0,211.3 L583.0,211.1 L584.0,210.9 L585.0,210.7 L586.0,210.5 L587.0,210.2 L588.0,210.0 L589.0,209.8 L590.0,209.5 L591.0,209.2 L592.0,208.8 L593.0,208.5 L594.0,208.1 L595.0,207.6 L596.0,207.2 L597.0,206.6 L598.0,206.0 L599.0,205.3 L600.0,204.5 L601.0,203.8 L602.0,203.0 L603.0,202.2 L604.0,201.4 L605.0,200.5 L606.0,199.5 L607.0,198.3 L608.0,196.9 L609.0,195.4 L610.0,193.8 L611.0,192.2 L612.0,190.5 L613.0,188.8 L614.0,187.1 L615.0,185.2 L616.0,183.1 L617.0,181.1 L618.0,179.3 L619.0,177.6 L620.0,175.6 L621.0,173.6 L622.0,172.2 L623.0,171.2 L624.0,171.7 L625.0,172.9 L626.0,174.7 L627.0,176.8 L628.0,178.7 L629.0,180.4 L630.0,182.3 L631.0,184.4 L632.0,186.4 L633.0,188.1 L634.0,189.9 L635.0,191.5 L636.0,193.2 L637.0,194.8 L638.0,196.4 L639.0,197.8 L640.0,199.0 L641.0,200.1 L642.0,201.1 L643.0,201.9 L644.0,202.7 L645.0,203.4 L646.0,204.2 L647.0,205.0 L648.0,205.7 L649.0,206.4 L650.0,206.9 L651.0,207.5 L652.0,207.9 L653.0,208.3 L654.0,208.7 L655.0,209.0 L656.0,209.3 L657.0,209.6 L658.0,209.9 L659.0,210.2 L660.0,210.4 L661.0,210.6 L662.0,210.8 L663.0,211.0 L664.0,211.2 L665.0,211.4 L666.0,211.6 L667.0,211.7 L668.0,211.8 L669.0,211.9 L670.0,211.9 L671.0,212.0 L672.0,212.0 L673.0,212.1 L674.0,212.2 L675.0,212.2 L676.0,212.2 L677.0,212.3 L678.0,212.3 L679.0,212.3 L680.0,212.4 L681.0,212.4 L682.0,212.4 L683.0,212.4 L684.0,212.4 L685.0,212.4 L686.0,212.4 L687.0,212.4 L688.0,212.4 L689.0,212.4 L690.0,212.4 L691.0,212.4 L692.0,212.4" stroke-width="2.5" stroke-dasharray="2.5,2.28" stroke-dashoffset="2.13"/>
</g>
<g stroke="#111" stroke-width="1.2"><line x1="463.8" y1="128.5" x2="470.2" y2="107.5"/><line x1="469.8" y1="128.5" x2="476.2" y2="107.5"/><line x1="503.1" y1="128.5" x2="509.5" y2="107.5"/><line x1="509.09999999999997" y1="128.5" x2="515.5" y2="107.5"/><line x1="542.8" y1="128.5" x2="549.2" y2="107.5"/><line x1="548.8" y1="128.5" x2="555.2" y2="107.5"/></g>

<!-- circled numbers -->
<g fill="#fff" stroke="#222" stroke-width="1.2">
<circle cx="345.3" cy="101.8" r="7.9"/>
<circle cx="489.6" cy="104.3" r="7.9"/>
<circle cx="529.7" cy="104.3" r="7.9"/>
</g>
<g class="sans" font-size="13.5" fill="#222" text-anchor="middle">
<text x="489.6" y="109.2">2</text><text x="529.7" y="109.2">3</text>
</g>

<use href="#one" transform="translate(341.4,106.9) scale(0.0066)" fill="#222" stroke="#222" stroke-width="50"/>
<use href="#one" transform="translate(316,161.6) skewX(-12) scale(0.006)" fill="#111" stroke="#111" stroke-width="40"/>
<use href="#one" transform="translate(315.3,224.7) skewX(-12) scale(0.006)" fill="#111" stroke="#111" stroke-width="40"/>
<!-- axes -->
<polyline points="331.4,86 331.4,237 662,237" fill="none" stroke="#111" stroke-width="1.9"/>
<path d="M331.5,77 L335.9,91 L331.5,88.5 L327.1,91 Z" fill="#111"/>
<path d="M670.5,237 L656.5,233 L659,237 L656.5,241 Z" fill="#111"/>
<use href="#nu" transform="translate(674.5,232.5) scale(1.062)" style="color:#111"/>

<!-- M labels -->
<g class="sans" font-style="italic" font-size="22" fill="#111">
<text x="295.3" y="115.7">M</text><text x="295.3" y="155.7">M</text>
<text x="295.3" y="192.3">M</text><text x="295.3" y="219.3">M</text>
</g>
<g class="sans" font-style="italic" font-size="12" fill="#111">
<text x="316.2" y="121.6">2</text>
<text x="315.6" y="198.1">2</text>
</g>
<g class="sans" font-style="italic" font-weight="bold" font-size="22" fill="#111">
</g>
<g class="sans" font-style="italic" font-size="23" fill="#111" stroke="#111" stroke-width="0.45">
<text x="314.6" y="116.3">’</text><text x="314.6" y="155.6">’</text>
</g>
<g class="sans" font-style="italic" font-size="23" fill="#111" stroke="#111" stroke-width="0.35">
<text x="313.4" y="193">”</text><text x="313.4" y="220">”</text>
</g>

<!-- x labels -->
<g class="sans" font-size="19.5" fill="#2e2e2e">
<text x="374.7" y="262">kHz</text><text x="446.8" y="262">MHz</text>
<text x="517.3" y="262">GHz</text><text x="592.5" y="262">THz</text>
</g>

<!-- inset M'' vs nu -->
<g stroke="#5a5a5a" fill="none">
<polyline points="461,46 461,68.6 553,68.6" stroke-width="1.8"/>
<path d="M477.6,62.8 L478.1,62.8 L478.6,62.7 L479.1,62.7 L479.6,62.7 L480.1,62.7 L480.6,62.6 L481.1,62.6 L481.6,62.6 L482.1,62.5 L482.6,62.5 L483.1,62.5 L483.6,62.4 L484.1,62.4 L484.6,62.4 L485.1,62.3 L485.6,62.3 L486.1,62.3 L486.6,62.2 L487.1,62.2 L487.6,62.2 L488.1,62.1 L488.6,62.1 L489.1,62.1 L489.6,62.0 L490.1,62.0 L490.6,61.9 L491.1,61.9 L491.6,61.9 L492.1,61.8 L492.6,61.8 L493.1,61.8 L493.6,61.7 L494.1,61.7 L494.6,61.6 L495.1,61.6 L495.6,61.6 L496.1,61.5 L496.6,61.5 L497.1,61.4 L497.6,61.4 L498.1,61.3 L498.6,61.3 L499.1,61.3 L499.6,61.2 L500.1,61.2 L500.6,61.1 L501.1,61.1 L501.6,61.0 L502.1,61.0 L502.6,60.9 L503.1,60.9 L503.6,60.8 L504.1,60.8 L504.6,60.7 L505.1,60.7 L505.6,60.6 L506.1,60.6 L506.6,60.5 L507.1,60.5 L507.6,60.4 L508.1,60.3 L508.6,60.3 L509.1,60.2 L509.6,60.2 L510.1,60.1 L510.6,60.0 L511.1,59.9 L511.6,59.9 L512.1,59.8 L512.6,59.7 L513.1,59.6 L513.6,59.6 L514.1,59.5 L514.6,59.4 L515.1,59.3 L515.6,59.2 L516.1,59.1 L516.6,59.0 L517.1,58.9 L517.6,58.8 L518.1,58.7 L518.6,58.6 L519.1,58.5 L519.6,58.4 L520.1,58.3 L520.6,58.2 L521.1,58.1 L521.6,58.0 L522.1,57.9 L522.6,57.7 L523.1,57.6 L523.6,57.5 L524.1,57.4 L524.6,57.3 L525.1,57.2 L525.6,57.1 L526.1,56.9 L526.6,56.8 L527.1,56.7 L527.6,56.6 L528.1,56.5 L528.6,56.3 L529.1,56.2 L529.6,56.1 L530.1,56.0 L530.6,55.8 L531.1,55.7 L531.6,55.6 L532.1,55.4 L532.6,55.3 L533.1,55.2 L533.6,55.0 L534.1,54.9 L534.6,54.7 L535.1,54.6 L535.6,54.4 L536.1,54.3 L536.6,54.1 L537.1,53.9 L537.6,53.8 L538.1,53.6 L538.6,53.4 L539.1,53.2 L539.6,53.1 L540.1,52.9 L540.6,52.7 L541.1,52.5 L541.6,52.2 L542.1,52.0 L542.6,51.8 L543.1,51.5 L543.6,51.3 L544.1,51.0 L544.6,50.8 L545.1,50.5 L545.6,50.2 L546.1,49.9 L546.6,49.6 L547.1,49.3 L547.6,49.0 L548.1,48.7 L548.6,48.4 L549.1,48.1 L549.6,47.8 L550.1,47.4 L550.6,47.1 L551.1,46.7 L551.6,46.4 L552.1,46.0 L552.6,45.6 L553.1,45.2 L553.6,44.8 L554.1,44.3 L554.6,43.9 L555.1,43.4 L555.6,42.9 L556.1,42.4 L556.6,41.9 L557.1,41.3 L557.6,40.7 L558.1,40.1 L558.6,39.5 L559.1,38.9 L559.6,38.2 L560.1,37.6 L560.6,36.9 L561.1,36.2 L561.6,35.5 L562.1,34.8 L562.6,34.0 L563.0,33.4" stroke-width="1.7"/>
<path d="M476.7,57.2 L477.2,57.2 L477.7,57.2 L478.2,57.1 L478.7,57.1 L479.2,57.1 L479.7,57.1 L480.2,57.1 L480.7,57.0 L481.2,57.0 L481.7,57.0 L482.2,57.0 L482.7,56.9 L483.2,56.9 L483.7,56.9 L484.2,56.9 L484.7,56.8 L485.2,56.8 L485.7,56.8 L486.2,56.8 L486.7,56.7 L487.2,56.7 L487.7,56.7 L488.2,56.6 L488.7,56.6 L489.2,56.6 L489.7,56.6 L490.2,56.5 L490.7,56.5 L491.2,56.5 L491.7,56.4 L492.2,56.4 L492.7,56.4 L493.2,56.3 L493.7,56.3 L494.2,56.3 L494.7,56.2 L495.2,56.2 L495.7,56.2 L496.2,56.1 L496.7,56.1 L497.2,56.0 L497.7,56.0 L498.2,56.0 L498.7,55.9 L499.2,55.9 L499.7,55.8 L500.2,55.8 L500.7,55.8 L501.2,55.7 L501.7,55.7 L502.2,55.6 L502.7,55.6 L503.2,55.5 L503.7,55.5 L504.2,55.4 L504.7,55.4 L505.2,55.3 L505.7,55.3 L506.2,55.2 L506.7,55.2 L507.2,55.1 L507.7,55.1 L508.2,55.0 L508.7,55.0 L509.2,54.9 L509.7,54.8 L510.2,54.8 L510.7,54.7 L511.2,54.6 L511.7,54.6 L512.2,54.5 L512.7,54.4 L513.2,54.3 L513.7,54.2 L514.2,54.2 L514.7,54.1 L515.2,54.0 L515.7,53.9 L516.2,53.8 L516.7,53.7 L517.2,53.6 L517.7,53.5 L518.2,53.4 L518.7,53.3 L519.2,53.1 L519.7,53.0 L520.2,52.9 L520.7,52.8 L521.2,52.7 L521.7,52.6 L522.2,52.5 L522.7,52.3 L523.2,52.2 L523.7,52.1 L524.2,52.0 L524.7,51.9 L525.2,51.8 L525.7,51.6 L526.2,51.5 L526.7,51.4 L527.2,51.3 L527.7,51.1 L528.2,51.0 L528.7,50.9 L529.2,50.8 L529.7,50.6 L530.2,50.5 L530.7,50.4 L531.2,50.2 L531.7,50.1 L532.2,50.0 L532.7,49.8 L533.2,49.7 L533.7,49.5 L534.2,49.4 L534.7,49.2 L535.2,49.1 L535.7,48.9 L536.2,48.8 L536.7,48.6 L537.2,48.4 L537.7,48.3 L538.2,48.1 L538.7,47.9 L539.2,47.7 L539.7,47.5 L540.2,47.3 L540.7,47.1 L541.2,46.9 L541.7,46.7 L542.2,46.4 L542.7,46.2 L543.2,45.9 L543.7,45.7 L544.2,45.4 L544.7,45.1 L545.2,44.8 L545.7,44.6 L546.2,44.3 L546.7,44.0 L547.2,43.6 L547.7,43.3 L548.2,43.0 L548.7,42.7 L549.2,42.4 L549.7,42.0 L550.2,41.7 L550.7,41.4 L551.2,41.0 L551.7,40.7 L552.2,40.4 L552.7,40.0 L553.2,39.6 L553.7,39.3 L554.2,38.9 L554.7,38.5 L555.2,38.1 L555.7,37.6 L556.2,37.2 L556.7,36.8 L557.2,36.4 L557.7,36.0 L558.2,35.6 L558.7,35.3 L559.2,34.9 L559.7,34.5 L560.2,34.1 L560.7,33.6 L561.2,33.2 L561.7,32.8 L562.0,32.6" stroke-width="1.5" stroke-dasharray="1.2,1.0"/>
<path d="M474.0,47.6 L474.5,47.6 L475.0,47.7 L475.5,47.7 L476.0,47.7 L476.5,47.7 L477.0,47.8 L477.5,47.8 L478.0,47.8 L478.5,47.8 L479.0,47.9 L479.5,47.9 L480.0,47.9 L480.5,47.9 L481.0,47.9 L481.5,48.0 L482.0,48.0 L482.5,48.0 L483.0,48.0 L483.5,48.0 L484.0,48.1 L484.5,48.1 L485.0,48.1 L485.5,48.1 L486.0,48.1 L486.5,48.1 L487.0,48.1 L487.5,48.2 L488.0,48.2 L488.5,48.2 L489.0,48.2 L489.5,48.2 L490.0,48.2 L490.5,48.2 L491.0,48.2 L491.5,48.2 L492.0,48.2 L492.5,48.2 L493.0,48.2 L493.5,48.2 L494.0,48.2 L494.5,48.2 L495.0,48.3 L495.5,48.3 L496.0,48.3 L496.5,48.3 L497.0,48.3 L497.5,48.3 L498.0,48.3 L498.5,48.3 L499.0,48.3 L499.5,48.3 L500.0,48.3 L500.5,48.3 L501.0,48.3 L501.5,48.3 L502.0,48.3 L502.5,48.3 L503.0,48.3 L503.5,48.3 L504.0,48.3 L504.5,48.3 L505.0,48.3 L505.5,48.3 L506.0,48.3 L506.5,48.3 L507.0,48.3 L507.5,48.2 L508.0,48.2 L508.5,48.2 L509.0,48.2 L509.5,48.1 L510.0,48.1 L510.5,48.1 L511.0,48.0 L511.5,48.0 L512.0,47.9 L512.5,47.9 L513.0,47.8 L513.5,47.8 L514.0,47.7 L514.5,47.7 L515.0,47.6 L515.5,47.6 L516.0,47.5 L516.5,47.4 L517.0,47.4 L517.5,47.3 L518.0,47.2 L518.5,47.2 L519.0,47.1 L519.5,47.1 L520.0,47.0 L520.5,46.9 L521.0,46.9 L521.5,46.8 L522.0,46.7 L522.5,46.7 L523.0,46.6 L523.5,46.5 L524.0,46.4 L524.5,46.3 L525.0,46.2 L525.5,46.2 L526.0,46.1 L526.5,46.0 L527.0,45.9 L527.5,45.8 L528.0,45.7 L528.5,45.6 L529.0,45.4 L529.5,45.3 L530.0,45.2 L530.5,45.1 L531.0,45.0 L531.5,44.9 L532.0,44.7 L532.5,44.6 L533.0,44.5 L533.5,44.4 L534.0,44.2 L534.5,44.1 L535.0,44.0 L535.5,43.8 L536.0,43.7 L536.5,43.5 L537.0,43.4 L537.5,43.3 L538.0,43.1 L538.5,43.0 L539.0,42.8 L539.5,42.7 L540.0,42.5 L540.5,42.3 L541.0,42.2 L541.5,42.0 L542.0,41.8 L542.5,41.6 L543.0,41.4 L543.5,41.2 L544.0,41.0 L544.5,40.8 L545.0,40.6 L545.5,40.3 L546.0,40.1 L546.5,39.9 L547.0,39.6 L547.5,39.4 L548.0,39.1 L548.5,38.9 L549.0,38.6 L549.5,38.4 L550.0,38.1 L550.5,37.8 L551.0,37.5 L551.5,37.3 L552.0,37.0 L552.5,36.7 L553.0,36.4 L553.5,36.1 L554.0,35.8 L554.5,35.4 L555.0,35.1 L555.5,34.7 L556.0,34.4 L556.5,34.1 L557.0,33.7 L557.5,33.3 L558.0,33.0 L558.5,32.6 L559.0,32.2 L559.5,31.9 L560.0,31.5 L560.5,31.1 L561.0,30.7" stroke-width="1.5" stroke-dasharray="1.2,1.0"/>
<path d="M472.3,37.8 L472.8,37.9 L473.3,37.9 L473.8,38.0 L474.3,38.0 L474.8,38.1 L475.3,38.2 L475.8,38.2 L476.3,38.3 L476.8,38.3 L477.3,38.4 L477.8,38.4 L478.3,38.5 L478.8,38.5 L479.3,38.6 L479.8,38.6 L480.3,38.7 L480.8,38.8 L481.3,38.8 L481.8,38.9 L482.3,38.9 L482.8,39.0 L483.3,39.0 L483.8,39.1 L484.3,39.1 L484.8,39.1 L485.3,39.2 L485.8,39.2 L486.3,39.3 L486.8,39.3 L487.3,39.4 L487.8,39.4 L488.3,39.5 L488.8,39.5 L489.3,39.5 L489.8,39.6 L490.3,39.6 L490.8,39.7 L491.3,39.7 L491.8,39.8 L492.3,39.8 L492.8,39.8 L493.3,39.9 L493.8,39.9 L494.3,40.0 L494.8,40.0 L495.3,40.1 L495.8,40.1 L496.3,40.2 L496.8,40.2 L497.3,40.2 L497.8,40.3 L498.3,40.3 L498.8,40.3 L499.3,40.4 L499.8,40.4 L500.3,40.4 L500.8,40.5 L501.3,40.5 L501.8,40.5 L502.3,40.5 L502.8,40.6 L503.3,40.6 L503.8,40.6 L504.3,40.6 L504.8,40.6 L505.3,40.6 L505.8,40.6 L506.3,40.6 L506.8,40.6 L507.3,40.6 L507.8,40.6 L508.3,40.6 L508.8,40.6 L509.3,40.6 L509.8,40.6 L510.3,40.6 L510.8,40.6 L511.3,40.6 L511.8,40.6 L512.3,40.6 L512.8,40.6 L513.3,40.6 L513.8,40.6 L514.3,40.6 L514.8,40.6 L515.3,40.6 L515.8,40.6 L516.3,40.6 L516.8,40.6 L517.3,40.6 L517.8,40.6 L518.3,40.6 L518.8,40.6 L519.3,40.6 L519.8,40.6 L520.3,40.6 L520.8,40.6 L521.3,40.6 L521.8,40.5 L522.3,40.5 L522.8,40.5 L523.3,40.4 L523.8,40.4 L524.3,40.3 L524.8,40.3 L525.3,40.2 L525.8,40.1 L526.3,40.0 L526.8,39.9 L527.3,39.9 L527.8,39.8 L528.3,39.7 L528.8,39.6 L529.3,39.4 L529.8,39.3 L530.3,39.2 L530.8,39.1 L531.3,39.0 L531.8,38.9 L532.3,38.7 L532.8,38.6 L533.3,38.5 L533.8,38.4 L534.3,38.2 L534.8,38.1 L535.3,38.0 L535.8,37.9 L536.3,37.7 L536.8,37.6 L537.3,37.5 L537.8,37.3 L538.3,37.2 L538.8,37.1 L539.3,37.0 L539.8,36.8 L540.3,36.7 L540.8,36.6 L541.3,36.5 L541.8,36.4 L542.3,36.2 L542.8,36.1 L543.3,36.0 L543.8,35.8 L544.3,35.7 L544.8,35.5 L545.3,35.4 L545.8,35.3 L546.3,35.1 L546.8,35.0 L547.3,34.8 L547.8,34.6 L548.3,34.5 L548.8,34.3 L549.3,34.1 L549.8,34.0 L550.3,33.8 L550.8,33.6 L551.3,33.5 L551.8,33.3 L552.3,33.1 L552.8,32.9 L553.3,32.7 L553.8,32.5 L554.3,32.2 L554.8,32.0 L555.3,31.8 L555.8,31.5 L556.3,31.3 L556.8,31.1 L557.3,30.9 L557.8,30.7 L558.3,30.4 L558.8,30.2 L559.3,30.0 L559.8,29.8 L560.3,29.6 L560.8,29.4 L561.0,29.3" stroke-width="1.5" stroke-dasharray="1.2,1.0"/>
<path d="M502.5,65.6 Q493,48 501.5,34.5" stroke="#222" stroke-width="1.2"/>
</g>
<path d="M461,37.1 L465,50.8 L461,48.5 L457,50.8 Z" fill="#5a5a5a"/>
<path d="M562.8,68.6 L550,65.3 L552.5,68.6 L550,71.9 Z" fill="#5a5a5a"/>
<path d="M503.6,31 L504.3,37.5 L499.4,35.2 Z" fill="#222"/>
<use href="#nu" transform="translate(566.5,65.4) scale(0.796)" style="color:#5a5a5a"/>
<text x="453.6" y="33.7" class="sans" font-style="italic" font-size="17.5" fill="#5a5a5a">M</text>
<text x="468.4" y="34" class="sans" font-style="italic" font-size="18" fill="#5a5a5a" stroke="#5a5a5a" stroke-width="0.3">”</text>
</svg>
</body></html>
